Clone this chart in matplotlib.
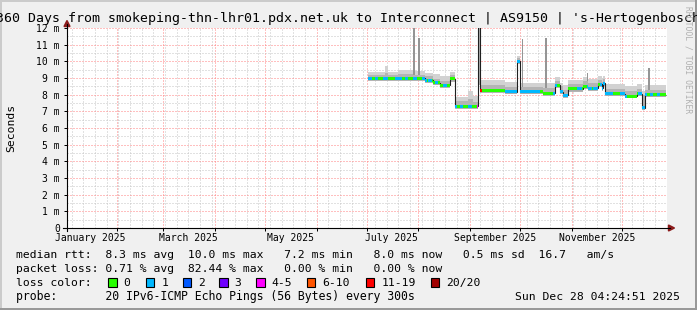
import matplotlib
matplotlib.use("Agg")
import matplotlib.pyplot as plt
import matplotlib.dates as mdates
from matplotlib.lines import Line2D
from matplotlib.patches import Polygon, Rectangle
from matplotlib.ticker import MultipleLocator
import numpy as np
import pandas as pd

# %%
# values (ms)
title = "360 Days from smokeping-thn-lhr01.pdx.net.uk to Interconnect | AS9150 | 's-Hertogenbosch"
graph_start = "2025-01-02 04:24:51"
graph_end = "2025-12-28 04:24:51"
data_end = "2025-12-27 14:00"

# piecewise levels: segment start, median, smoke bottom, smoke core top, smoke top
seg_start = ["2025-07-02", "2025-07-12", "2025-07-14", "2025-07-20", "2025-07-29",
             "2025-08-05", "2025-08-10", "2025-08-14", "2025-08-20", "2025-08-23",
             "2025-08-31", "2025-09-03", "2025-09-06", "2025-09-07", "2025-09-22",
             "2025-09-29", "2025-10-01", "2025-10-15", "2025-10-22", "2025-10-25",
             "2025-10-27", "2025-10-30", "2025-11-08", "2025-11-11", "2025-11-17",
             "2025-11-19", "2025-11-20", "2025-11-21", "2025-12-03", "2025-12-10",
             "2025-12-13", "2025-12-15"]
seg_median = [9.00, 9.00, 9.00, 9.00, 9.00, 8.88, 8.72, 8.56, 8.95, 7.32,
              7.32, 7.32, 13.50, 8.28, 8.18, 10.00, 8.18, 8.08, 8.58, 8.18,
              7.98, 8.35, 8.48, 8.38, 8.62, 8.38, 8.68, 8.05, 7.92, 8.05,
              7.22, 8.00]
seg_lo = [8.84, 8.84, 8.84, 8.84, 8.84, 8.72, 8.56, 8.40, 8.78, 7.16,
          7.16, 7.16, 8.60, 8.12, 8.02, 9.84, 8.02, 7.92, 8.42, 8.02,
          7.82, 8.18, 8.32, 8.22, 8.46, 8.22, 8.52, 7.90, 7.78, 7.90,
          7.08, 7.86]
seg_core = [9.20, 9.28, 9.20, 9.24, 9.20, 9.10, 8.96, 8.84, 9.18, 7.60,
            7.72, 7.58, 13.50, 8.58, 8.48, 10.20, 8.44, 8.40, 8.80, 8.50,
            8.30, 8.64, 8.80, 8.70, 8.90, 8.76, 8.94, 8.34, 8.24, 8.34,
            8.00, 8.30]
seg_hi = [9.38, 9.74, 9.36, 9.50, 9.42, 9.32, 9.22, 9.12, 9.36, 7.88,
          8.20, 7.92, 13.50, 8.88, 8.76, 10.30, 8.72, 8.68, 9.06, 8.72,
          8.58, 8.88, 9.06, 8.92, 9.12, 9.02, 9.12, 8.62, 8.52, 8.62,
          8.20, 8.58]

# isolated smoke spikes
spike_dates = ["2025-07-29", "2025-08-01", "2025-10-02", "2025-10-16", "2025-11-10", "2025-12-17"]
spike_tops = [12.5, 11.38, 11.34, 11.38, 9.30, 9.58]

# loss bucket per day (Jul 2 .. Dec 27)
loss_by_month = [
    "110011000111000011110011000110",
    "0011101100110001100000100110001",
    "100041R00000000000000111111111",
    "1111111111110000000011001111100",
    "000111000111011101111111100001",
    "111000000011111001100110000",
]
loss_keys = ["0", "1", "2", "3", "4", "6", "R", "T"]
loss_labels = ["0", "1", "2", "3", "4-5", "6-10", "11-19", "20/20"]
loss_colors = ["#26ff00", "#00b8ff", "#0059ff", "#7000ff", "#ff00ff", "#ff5500", "#ff0000", "#a10000"]

rtt_stats = [8.3, 10.0, 7.2, 8.0, 0.5, 16.7]
loss_stats = [0.71, 82.44, 0.00, 0.00]
probe_text = "20 IPv6-ICMP Echo Pings (56 Bytes) every 300s"
stamp = "Sun Dec 28 04:24:51 2025"

month_labels = ["January 2025", "March 2025", "May 2025", "July 2025", "September 2025", "November 2025"]
month_label_dates = ["2025-01-16", "2025-03-16", "2025-05-16", "2025-07-16", "2025-09-16", "2025-11-16"]
ytick_labels = ["0"] + [f"{i} m" for i in range(1, 13)]

# %%
W, H = 697, 310
plt.rcParams["font.family"] = "DejaVu Sans Mono"


def fx(x):
    return x / W


def fy(y):
    return 1 - y / H


fig = plt.figure(figsize=(W / 100, H / 100), dpi=100, facecolor="#f0f0f0")
ax = fig.add_axes([fx(67), fy(228), 600 / W, 200 / H])
ax.set_facecolor("white")
for s in ax.spines.values():
    s.set_visible(False)

ax.set_xlim(mdates.date2num(pd.Timestamp(graph_start)), mdates.date2num(pd.Timestamp(graph_end)))
ax.set_ylim(0, 12)

ax.xaxis.set_major_locator(mdates.MonthLocator())
ax.xaxis.set_minor_locator(mdates.WeekdayLocator(byweekday=mdates.SU))
ax.xaxis.set_major_formatter(plt.NullFormatter())
ax.set_yticks(range(13), ytick_labels)
ax.yaxis.set_minor_locator(MultipleLocator(0.5))

ax.grid(which="minor", color="#c4c4c4", ls=(0, (1, 2)), lw=0.72)
ax.grid(which="major", color="#ff8080", ls=(0, (1, 2)), lw=0.72)
ax.set_axisbelow(True)
ax.tick_params(which="major", length=2.2, width=0.72, color="black", labelsize=7.06, pad=3)
ax.tick_params(which="minor", length=0)

# expand segments to one value per day
days = pd.date_range(seg_start[0], "2025-12-27")
edges = np.append(mdates.date2num(days), mdates.date2num(pd.Timestamp(data_end)))
idx = np.searchsorted(pd.to_datetime(seg_start).values, days.values, side="right") - 1
median = np.array(seg_median)[idx]
lo = np.array(seg_lo)[idx]
core = np.array(seg_core)[idx]
hi = np.array(seg_hi)[idx]

# smoke
ax.stairs(hi, edges, baseline=lo, fill=True, color="#d2d2d2", lw=0, zorder=2)
ax.stairs(core, edges, baseline=lo, fill=True, color="#b4b4b4", lw=0, zorder=3)

sp = (pd.to_datetime(spike_dates) - days[0]).days.values
ax.bar(edges[sp], np.array(spike_tops) - core[sp], bottom=core[sp], width=0.9,
       align="edge", color="#959595", lw=0, zorder=3)

# median line + loss coloured band
ax.stairs(median, edges, baseline=None, color="#202020", lw=0.8, zorder=4)
cmap = dict(zip(loss_keys, loss_colors))
codes = "".join(loss_by_month)
ax.bar(edges[:-1], 0.18, bottom=median - 0.09, width=np.diff(edges), align="edge",
       color=[cmap[c] for c in codes], lw=0, zorder=5)

for lab, d in zip(month_labels, month_label_dates):
    ax.text(mdates.date2num(pd.Timestamp(d)), -0.05, lab, transform=ax.get_xaxis_transform(),
            ha="center", va="center", fontsize=7.06)

# axes with arrows
fig.add_artist(Line2D([fx(67), fx(67)], [fy(231), fy(24)], color="black", lw=0.8))
fig.add_artist(Line2D([fx(63), fx(670)], [fy(228), fy(228)], color="black", lw=0.8))
fig.add_artist(Polygon([(fx(67), fy(20.5)), (fx(64), fy(26.5)), (fx(70), fy(26.5))], closed=True, color="#8b1a1a"))
fig.add_artist(Polygon([(fx(674.5), fy(228)), (fx(668.5), fy(225)), (fx(668.5), fy(231))], closed=True, color="#8b1a1a"))

# frame
fig.add_artist(Rectangle((0, 1 - 2 / H), 1, 2 / H, transform=fig.transFigure, color="#cbcbcb", lw=0))
fig.add_artist(Rectangle((0, 0), 2 / W, 1, transform=fig.transFigure, color="#cbcbcb", lw=0))
fig.add_artist(Rectangle((0, 0), 1, 2 / H, transform=fig.transFigure, color="#999999", lw=0))
fig.add_artist(Rectangle((1 - 2 / W, 0), 2 / W, 1, transform=fig.transFigure, color="#999999", lw=0))

# texts
fig.text(fx(348.5), fy(22), title, ha="center", va="baseline", fontsize=9.55)
fig.text(fx(11), fy(128), "Seconds", rotation=90, ha="center", va="center", fontsize=8.2)
fig.text(fx(688), fy(60), "RRDTOOL / TOBI OETIKER", rotation=270, ha="center", va="center",
         fontsize=5.8, color="#b0b0b0")

line1 = ("median rtt:  {:.1f} ms avg  {:.1f} ms max   {:.1f} ms min   {:.1f} ms now   "
         "{:.1f} ms sd  {:.1f}   am/s").format(*rtt_stats)
line2 = "packet loss: {:.2f} % avg  {:.2f} % max   {:.2f} % min   {:.2f} % now".format(*loss_stats)
fig.text(fx(16), fy(258), line1, va="baseline", fontsize=8.2)
fig.text(fx(16), fy(272), line2, va="baseline", fontsize=8.2)
fig.text(fx(16), fy(286), "loss color:", va="baseline", fontsize=8.2)
fig.text(fx(16), fy(300), "probe:       " + probe_text, va="baseline", fontsize=8.3)
fig.text(fx(680), fy(300), stamp, ha="right", va="baseline", fontsize=8.2)

box_x = [108, 145.7, 182.7, 219, 256, 306.7, 365.7, 430.7]
for bx, lab, col in zip(box_x, loss_labels, loss_colors):
    fig.add_artist(Rectangle((fx(bx), fy(286.5)), 8.5 / W, 8.5 / H, transform=fig.transFigure,
                             facecolor=col, edgecolor="black", lw=0.8))
    fig.text(fx(bx + 15.5), fy(286), lab, va="baseline", fontsize=8.2)

fig.savefig("out.png", dpi=100, facecolor=fig.get_facecolor())
